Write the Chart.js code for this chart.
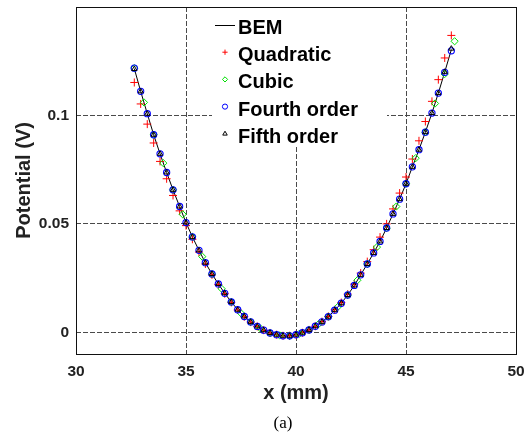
<!DOCTYPE html>
<html>
<head>
<meta charset="utf-8">
<script src="https://cdn.jsdelivr.net/npm/chart.js@4.4.1/dist/chart.umd.min.js"></script>
<style>
  html, body { margin: 0; padding: 0; background: #fff; }
</style>
</head>
<body>
<canvas id="potChart" width="528" height="435"></canvas>
<script>
// values
var xNodes = [32.65, 32.94, 33.24, 33.53, 33.82, 34.12, 34.41, 34.71, 35.00, 35.29,
  35.59, 35.88, 36.18, 36.47, 36.76, 37.06, 37.35, 37.65, 37.94, 38.24,
  38.53, 38.82, 39.12, 39.41, 39.71, 40.00, 40.29, 40.59, 40.88, 41.18,
  41.47, 41.76, 42.06, 42.35, 42.65, 42.94, 43.24, 43.53, 43.82, 44.12,
  44.41, 44.71, 45.00, 45.29, 45.59, 45.88, 46.18, 46.47, 46.76, 47.06];

var bemVals = [0.1216, 0.1111, 0.1008, 0.0911, 0.0823, 0.0737, 0.0657, 0.0580, 0.0506, 0.0440,
  0.0378, 0.0321, 0.0269, 0.0223, 0.0180, 0.0140, 0.0104, 0.0073, 0.0048, 0.0027,
  0.0010, -0.0003, -0.0011, -0.0016, -0.0016, -0.0011, -0.0002, 0.0011, 0.0028, 0.0048,
  0.0072, 0.0102, 0.0134, 0.0172, 0.0216, 0.0265, 0.0315, 0.0366, 0.0419, 0.0481,
  0.0546, 0.0614, 0.0685, 0.0763, 0.0842, 0.0923, 0.1011, 0.1103, 0.1200, 0.1303];

var quadVals = [0.1152, 0.1053, 0.0960, 0.0873, 0.0788, 0.0708, 0.0631, 0.0560, 0.0492, 0.0429,
  0.0370, 0.0315, 0.0265, 0.0220, 0.0178, 0.0138, 0.0103, 0.0072, 0.0047, 0.0027,
  0.0010, -0.0003, -0.0011, -0.0016, -0.0016, -0.0011, -0.0002, 0.0011, 0.0028, 0.0049,
  0.0073, 0.0104, 0.0137, 0.0176, 0.0222, 0.0273, 0.0326, 0.0381, 0.0439, 0.0500,
  0.0569, 0.0642, 0.0716, 0.0799, 0.0883, 0.0972, 0.1065, 0.1165, 0.1265, 0.1369];

var fourthVals = [0.1218, 0.1111, 0.1008, 0.0911, 0.0823, 0.0737, 0.0657, 0.0580, 0.0506, 0.0440,
  0.0378, 0.0321, 0.0269, 0.0223, 0.0180, 0.0140, 0.0104, 0.0073, 0.0048, 0.0027,
  0.0010, -0.0003, -0.0011, -0.0016, -0.0016, -0.0011, -0.0002, 0.0011, 0.0028, 0.0048,
  0.0072, 0.0102, 0.0134, 0.0172, 0.0216, 0.0265, 0.0315, 0.0366, 0.0419, 0.0481,
  0.0546, 0.0614, 0.0685, 0.0763, 0.0842, 0.0923, 0.1011, 0.1103, 0.1199, 0.1298];

var fifthVals = [0.1214, 0.1111, 0.1008, 0.0911, 0.0823, 0.0737, 0.0657, 0.0580, 0.0506, 0.0440,
  0.0378, 0.0321, 0.0269, 0.0223, 0.0180, 0.0140, 0.0104, 0.0073, 0.0048, 0.0027,
  0.0010, -0.0003, -0.0011, -0.0016, -0.0016, -0.0011, -0.0002, 0.0011, 0.0028, 0.0048,
  0.0072, 0.0102, 0.0134, 0.0172, 0.0216, 0.0265, 0.0315, 0.0366, 0.0419, 0.0481,
  0.0546, 0.0614, 0.0685, 0.0763, 0.0842, 0.0923, 0.1011, 0.1103, 0.1201, 0.1308];

var cubicX = [32.65, 33.09, 33.53, 33.97, 34.41, 34.85, 35.29, 35.74, 36.18, 36.62,
  37.06, 37.50, 37.94, 38.38, 38.82, 39.26, 39.71, 40.15, 40.59, 41.03,
  41.47, 41.91, 42.35, 42.79, 43.24, 43.68, 44.12, 44.56, 45.00, 45.44,
  45.88, 46.32, 46.76, 47.21];
var cubicVals = [0.1218, 0.1060, 0.0911, 0.0780, 0.0657, 0.0544, 0.0440, 0.0349, 0.0269, 0.0201,
  0.0140, 0.0088, 0.0048, 0.0018, -0.0003, -0.0014, -0.0017, -0.0007, 0.0011, 0.0038,
  0.0072, 0.0118, 0.0172, 0.0240, 0.0315, 0.0393, 0.0481, 0.0580, 0.0685, 0.0803,
  0.0923, 0.1055, 0.1191, 0.1342];

var xTicks = [30, 35, 40, 45, 50];
var yTicks = [0, 0.05, 0.1];
var seriesNames = ['BEM', 'Quadratic', 'Cubic', 'Fourth order', 'Fifth order'];

function pts(xs, ys) {
  return xs.map(function(x, i) { return { x: x, y: ys[i] }; });
}

Chart.defaults.font.family = "'Liberation Sans', Arial, sans-serif";
Chart.defaults.color = '#222';

var gridColor = '#4a4a4a';

// black box round the plot area
var frameBox = {
  id: 'frameBox',
  beforeDatasetsDraw: function(chart) {
    var a = chart.chartArea, ctx = chart.ctx;
    ctx.save();
    ctx.strokeStyle = '#111';
    ctx.lineWidth = 1;
    ctx.strokeRect(Math.round(a.left) + 0.5, Math.round(a.top) + 0.5,
      Math.round(a.right - a.left), Math.round(a.bottom - a.top));
    ctx.restore();
  }
};

// legend in the top left of the plot, plus the "(a)" caption
var insideLegend = {
  id: 'insideLegend',
  afterDatasetsDraw: function(chart) {
    var a = chart.chartArea, ctx = chart.ctx;
    var bx = a.left + 136, by = a.top + 1;
    ctx.save();
    ctx.fillStyle = '#fff';
    ctx.fillRect(bx, by, 175, 138);

    var names = seriesNames;
    for (var i = 0; i < names.length; i++) {
      var ds = chart.data.datasets[i];
      var my = by + 17 + i * 27.2;
      var mx = bx + 13;
      if (i === 0) {
        ctx.strokeStyle = '#000';
        ctx.lineWidth = 1;
        ctx.beginPath();
        ctx.moveTo(bx + 3, my + 0.5);
        ctx.lineTo(bx + 23, my + 0.5);
        ctx.stroke();
      } else {
        ctx.strokeStyle = ds.borderColor;
        ctx.fillStyle = 'rgba(0,0,0,0)';
        ctx.lineWidth = 1;
        Chart.helpers.drawPoint(ctx, {
          pointStyle: ds.pointStyle, radius: 2.6, rotation: 0, borderWidth: 1
        }, mx, my);
      }
      ctx.fillStyle = '#000';
      ctx.font = 'bold 20px "Liberation Sans", Arial, sans-serif';
      ctx.textAlign = 'left';
      ctx.textBaseline = 'alphabetic';
      ctx.fillText(names[i], bx + 26, by + 26 + i * 27.2);
    }

    ctx.font = '17px "Liberation Serif", "DejaVu Serif", serif';
    ctx.textAlign = 'center';
    ctx.textBaseline = 'middle';
    ctx.fillStyle = '#000';
    ctx.fillText('(a)', 283, 424);
    ctx.restore();
  }
};

var ctx = document.getElementById('potChart').getContext('2d');
new Chart(ctx, {
  type: 'scatter',
  data: {
    datasets: [{
      label: 'BEM',
      data: pts(xNodes, bemVals),
      showLine: true,
      borderColor: '#000',
      backgroundColor: '#000',
      borderWidth: 1,
      pointRadius: 0,
      order: 4
    }, {
      label: 'Quadratic',
      data: pts(xNodes, quadVals),
      pointStyle: 'cross',
      pointRadius: 4,
      borderColor: '#ff0000',
      backgroundColor: 'rgba(0,0,0,0)',
      pointBorderWidth: 1,
      order: 3
    }, {
      label: 'Cubic',
      data: pts(cubicX, cubicVals),
      pointStyle: 'rectRot',
      pointRadius: 3.6,
      borderColor: '#00e000',
      backgroundColor: 'rgba(0,0,0,0)',
      pointBorderWidth: 1,
      order: 2
    }, {
      label: 'Fourth order',
      data: pts(xNodes, fourthVals),
      pointStyle: 'circle',
      pointRadius: 3.1,
      borderColor: '#0000ff',
      backgroundColor: 'rgba(0,0,0,0)',
      pointBorderWidth: 1.1,
      order: 1
    }, {
      label: 'Fifth order',
      data: pts(xNodes, fifthVals),
      pointStyle: 'triangle',
      pointRadius: 3,
      borderColor: '#000',
      backgroundColor: 'rgba(0,0,0,0)',
      pointBorderWidth: 1,
      order: 0
    }]
  },
  options: {
    responsive: false,
    animation: false,
    devicePixelRatio: 1,
    layout: { padding: { left: 0, right: 12, top: 7, bottom: 0 } },
    plugins: {
      legend: { display: false },
      tooltip: { enabled: false }
    },
    scales: {
      x: {
        type: 'linear',
        min: 30,
        max: 50,
        afterBuildTicks: function(scale) {
          scale.ticks = xTicks.map(function(v) { return { value: v }; });
        },
        afterFit: function(scale) {
          scale.height = 81;
          scale.paddingLeft = 0;
          scale.paddingRight = 0;
        },
        ticks: {
          padding: 8,
          maxRotation: 0,
          color: '#222',
          font: { size: 15.5, weight: 'bold' }
        },
        grid: { color: gridColor, lineWidth: 1, drawTicks: false },
        border: { display: false, dash: [5, 2] },
        title: {
          display: true,
          text: 'x (mm)',
          color: '#222',
          font: { size: 20, weight: 'bold' },
          padding: { top: 0, bottom: 30 }
        }
      },
      y: {
        type: 'linear',
        min: -0.01,
        max: 0.15,
        afterBuildTicks: function(scale) {
          scale.ticks = yTicks.map(function(v) { return { value: v }; });
        },
        afterFit: function(scale) {
          scale.width = 76;
          scale.paddingTop = 0;
          scale.paddingBottom = 0;
        },
        ticks: {
          padding: 7,
          color: '#222',
          font: { size: 15.5, weight: 'bold' },
          callback: function(v) { return String(v); }
        },
        grid: { color: gridColor, lineWidth: 1, drawTicks: false },
        border: { display: false, dash: [5, 2] },
        title: {
          display: true,
          text: 'Potential (V)',
          color: '#222',
          font: { size: 20, weight: 'bold' },
          padding: { top: 12, bottom: 0 }
        }
      }
    }
  },
  plugins: [frameBox, insideLegend]
});
</script>
</body>
</html>
